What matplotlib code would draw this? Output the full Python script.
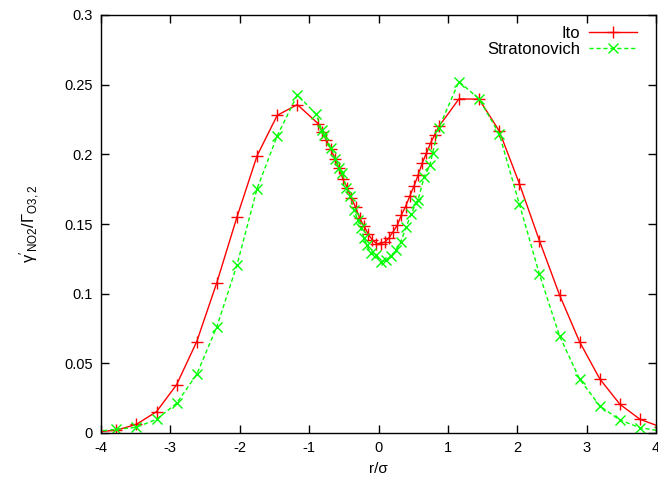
import matplotlib
matplotlib.use("Agg")
import matplotlib.pyplot as plt

plt.rcParams['font.family'] = ['Liberation Sans', 'DejaVu Sans']
plt.rcParams['mathtext.fontset'] = 'custom'
plt.rcParams['mathtext.rm'] = 'Liberation Sans'
plt.rcParams['mathtext.it'] = 'Liberation Sans:italic'

# Data
ito_x = [-4.07, -3.78, -3.49, -3.20, -2.91, -2.62, -2.33, -2.04, -1.75, -1.46, -1.17,
         -0.87, -0.81, -0.75, -0.69, -0.63, -0.57, -0.51, -0.45, -0.39, -0.33,
         -0.27, -0.21, -0.15, -0.09, -0.03, 0.03, 0.09, 0.15, 0.21, 0.27,
         0.33, 0.39, 0.45, 0.51, 0.57, 0.63, 0.69, 0.75, 0.81, 0.87,
         1.16, 1.45, 1.74, 2.03, 2.32, 2.61, 2.90, 3.19, 3.48, 3.77, 4.06]
ito_y = [0.0008, 0.0020, 0.0062, 0.0153, 0.0347, 0.0656, 0.1080, 0.1550, 0.1990, 0.2280, 0.2357,
         0.2220, 0.2160, 0.2100, 0.2040, 0.1970, 0.1900, 0.1820, 0.1760, 0.1685, 0.1620,
         0.1540, 0.1486, 0.1430, 0.1386, 0.1360, 0.1360, 0.1370, 0.1400, 0.1445, 0.1490,
         0.1565, 0.1625, 0.1700, 0.1770, 0.1850, 0.1937, 0.2008, 0.2080, 0.2140, 0.2200,
         0.2398, 0.2396, 0.2168, 0.1790, 0.1380, 0.0990, 0.0653, 0.0388, 0.0206, 0.0098, 0.0045]

strat_x = [-4.07, -3.78, -3.49, -3.20, -2.91, -2.62, -2.33, -2.04, -1.75, -1.46, -1.17,
           -0.90, -0.82, -0.79, -0.68, -0.62, -0.57, -0.52, -0.465, -0.41, -0.35,
           -0.30, -0.25, -0.21, -0.17, -0.11, -0.04, 0.04, 0.11, 0.18, 0.25,
           0.32, 0.40, 0.47, 0.54, 0.57, 0.66, 0.74, 0.78, 0.87,
           1.16, 1.45, 1.74, 2.03, 2.32, 2.61, 2.90, 3.19, 3.48, 3.77, 4.06]
strat_y = [0.0012, 0.0026, 0.0041, 0.0098, 0.0213, 0.0421, 0.0763, 0.1206, 0.1754, 0.2132, 0.2427,
           0.2289, 0.2176, 0.2140, 0.2044, 0.1970, 0.1900, 0.1864, 0.1757, 0.1700, 0.1600,
           0.1530, 0.1470, 0.1400, 0.1350, 0.1290, 0.1278, 0.1230, 0.1240, 0.1270, 0.1310,
           0.1370, 0.1480, 0.1570, 0.1650, 0.1673, 0.1840, 0.1920, 0.2010, 0.2190,
           0.2522, 0.2398, 0.2147, 0.1644, 0.1139, 0.0696, 0.0386, 0.0194, 0.0093, 0.0038, 0.0015]

xticks = [-4, -3, -2, -1, 0, 1, 2, 3, 4]
xticklabels = ['-4', '-3', '-2', '-1', '0', '1', '2', '3', '4']
yticks = [0, 0.05, 0.1, 0.15, 0.2, 0.25, 0.3]
yticklabels = ['0', '0.05', '0.1', '0.15', '0.2', '0.25', '0.3']

fig = plt.figure(figsize=(6.58, 4.88), dpi=100)
ax = fig.add_axes([101/658, 55/488, 555/658, 418/488])

ax.plot(ito_x, ito_y, color='#ff0000', lw=1.0, marker='+', ms=8, mew=1.0, label='Ito')
ax.plot(strat_x, strat_y, color='#00ff00', lw=1.0, ls=(0, (3, 2)), marker='x', ms=7, mew=1.0,
        label='Stratonovich')

ax.set_xlim(-4, 4)
ax.set_ylim(0, 0.3)
ax.set_xticks(xticks)
ax.set_xticklabels(xticklabels)
ax.set_yticks(yticks)
ax.set_yticklabels(yticklabels)
ax.tick_params(direction='in', length=6, width=1, top=True, right=True, labelsize=10.5, pad=6)
for s in ax.spines.values():
    s.set_linewidth(1.0)

ax.set_xlabel('r/σ', fontsize=11, labelpad=5)
ax.set_ylabel(r"$\mathrm{\gamma}'_{\mathrm{NO2}}/\mathrm{\Gamma}_{\mathrm{O3,2}}$", fontsize=12, labelpad=16)

leg = ax.legend(loc='upper right', frameon=False, markerfirst=False, handlelength=2.9,
                fontsize=12, borderaxespad=0.25, labelspacing=0.05, handletextpad=0.5,
                bbox_to_anchor=(0.985, 1.0))

fig.savefig('out.png', dpi=100)
